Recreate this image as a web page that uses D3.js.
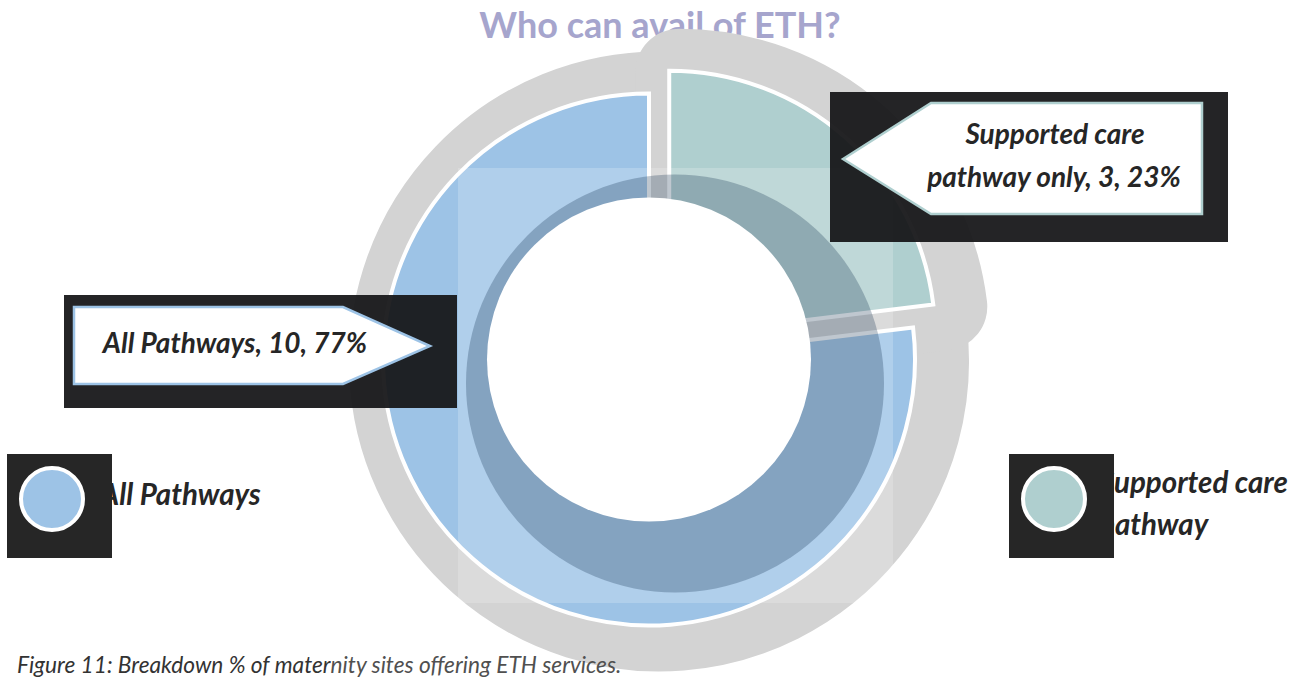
<!DOCTYPE html>
<html>
<head>
<meta charset="utf-8">
<script src="https://cdn.jsdelivr.net/npm/d3@7"></script>
<style>
  html, body { margin: 0; padding: 0; background: #ffffff; }
  svg { display: block; }
  text { font-family: Lato, "Open Sans", "DejaVu Sans", sans-serif; }
</style>
</head>
<body>
<svg id="chart" width="1301" height="679"></svg>
<script>
// ---- data ----
const categories = ["All Pathways", "Supported care pathway only"];
const legendLabels = ["All Pathways", "Supported care pathway"];
const values = [10, 3];
const colors = ["#9dc3e6", "#afcfcf"];
const titleText = "Who can avail of ETH?";
const captionMain = "Figure 11: Breakdown % of mater";
const captionRest = "nity sites offering ETH services.";

// ---- layout ----
const cx = 649, cy = 359.5;
const outerR = 266, innerR = 120, holeR = 162;
const explode = [0, 30.5];
const svg = d3.select("#chart");

const total = d3.sum(values);
const rows = categories.map((c, i) => ({ cat: c, legend: legendLabels[i], value: values[i], color: colors[i], idx: i,
  pct: Math.round(values[i] / total * 100) }));

const pie = d3.pie().value(d => d.value).sortValues(d3.ascending);
const arcs = pie(rows);
const arcGen = d3.arc().innerRadius(innerR).outerRadius(outerR);
const wedgeGen = d3.arc().innerRadius(0).outerRadius(outerR);

function offsetOf(a) {
  const m = (a.startAngle + a.endAngle) / 2;
  const d = explode[a.data.idx];
  return [Math.sin(m) * d, -Math.cos(m) * d];
}

// title
svg.append("text")
  .attr("x", 660).attr("y", 38)
  .attr("text-anchor", "middle")
  .attr("font-size", 36).attr("font-weight", 700)
  .attr("fill", "#a6a5cd")
  .text(titleText);

// grey shadow
svg.append("g").selectAll("path").data(arcs).join("path")
  .attr("transform", d => { const o = offsetOf(d); return `translate(${cx + 10 + o[0]},${cy + 2 + o[1]})`; })
  .attr("d", wedgeGen)
  .attr("fill", "#d3d3d3")
  .attr("stroke", "#d3d3d3")
  .attr("stroke-width", 88)
  .attr("stroke-linejoin", "round");

// caption
const cap = svg.append("text")
  .attr("x", 17).attr("y", 673)
  .attr("font-size", 22.7).attr("font-style", "italic")
  .attr("fill", "#333333");
cap.append("tspan").text(captionMain);
cap.append("tspan").attr("fill", "#505050").text(captionRest);

// slices
svg.append("g").selectAll("path").data(arcs).join("path")
  .attr("transform", d => { const o = offsetOf(d); return `translate(${cx + o[0]},${cy + o[1]})`; })
  .attr("d", arcGen)
  .attr("fill", d => d.data.color)
  .attr("stroke", "#ffffff")
  .attr("stroke-width", 4);

// light overlay rectangle
svg.append("rect")
  .attr("x", 458).attr("y", 168).attr("width", 435).attr("height", 435)
  .attr("fill", "#ffffff").attr("fill-opacity", 0.2);

// dark inner shadow
svg.append("circle")
  .attr("cx", cx + 26).attr("cy", cy + 24).attr("r", 209)
  .attr("fill", "rgb(0,31,63)").attr("fill-opacity", 0.25);

// hole
svg.append("circle")
  .attr("cx", cx).attr("cy", cy).attr("r", holeR)
  .attr("fill", "#ffffff");

// callouts
const fontLbl = 28;
// left (All Pathways)
const a0 = rows[0];
svg.append("rect").attr("x", 64).attr("y", 295).attr("width", 393).attr("height", 113)
  .attr("fill", "rgb(22,22,24)").attr("fill-opacity", 0.94);
svg.append("polygon")
  .attr("points", "74,307 343,307 430,346 343,384 74,384")
  .attr("fill", "#ffffff").attr("stroke", a0.color).attr("stroke-width", 2.5);
svg.append("text")
  .attr("x", 235).attr("y", 353)
  .attr("text-anchor", "middle")
  .attr("font-size", fontLbl).attr("font-weight", 700).attr("font-style", "italic")
  .attr("fill", "#262626")
  .text(`${a0.cat}, ${a0.value}, ${a0.pct}%`);

// right (Supported care pathway only)
const a1 = rows[1];
svg.append("rect").attr("x", 830).attr("y", 92).attr("width", 398).attr("height", 150)
  .attr("fill", "rgb(22,22,24)").attr("fill-opacity", 0.94);
svg.append("polygon")
  .attr("points", "843,159 931,103 1202,103 1202,214 931,214")
  .attr("fill", "#ffffff").attr("stroke", a1.color).attr("stroke-width", 2.5);
const words1 = `${a1.cat}, ${a1.value}, ${a1.pct}%`;
const line1 = words1.split(" ").slice(0, 2).join(" ");
const line2 = words1.split(" ").slice(2).join(" ");
const t1 = svg.append("text")
  .attr("text-anchor", "middle")
  .attr("font-size", fontLbl).attr("font-weight", 700).attr("font-style", "italic")
  .attr("fill", "#262626");
t1.append("tspan").attr("x", 1055).attr("y", 144).text(line1);
t1.append("tspan").attr("x", 1054).attr("y", 187).text(line2);

// legend
const fontLeg = 29.5;
const legendPos = [{ x: 7, y: 454, tx: 100 }, { x: 1009, y: 454, tx: 1099 }];
rows.forEach((r, i) => {
  const p = legendPos[i];
  const words = r.legend.split(" ");
  const lines = i === 0 ? [r.legend] : [words.slice(0, 2).join(" "), words.slice(2).join(" ")];
  const lt = svg.append("text")
    .attr("font-size", fontLeg).attr("font-weight", 700).attr("font-style", "italic")
    .attr("fill", "#262626");
  if (lines.length === 1) {
    lt.append("tspan").attr("x", p.tx).attr("y", 505).text(lines[0]);
  } else {
    lt.append("tspan").attr("x", p.tx).attr("y", 493).text(lines[0]);
    lt.append("tspan").attr("x", p.tx).attr("y", 535).text(lines[1]);
  }
  svg.append("rect").attr("x", p.x).attr("y", p.y).attr("width", 105).attr("height", 104)
    .attr("fill", "#262626");
  svg.append("circle").attr("cx", p.x + 45).attr("cy", p.y + 45).attr("r", 31)
    .attr("fill", r.color).attr("stroke", "#ffffff").attr("stroke-width", 4);
});
</script>
</body>
</html>
